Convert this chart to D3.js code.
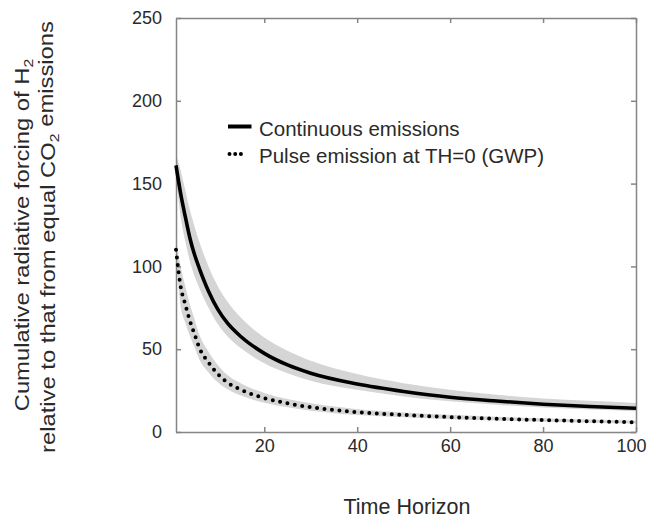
<!DOCTYPE html>
<html><head><meta charset="utf-8">
<script src="https://cdn.jsdelivr.net/npm/d3@7"></script>
<style>body{margin:0;background:#fff}text{font-family:"Liberation Sans",Arial,Helvetica,sans-serif;fill:#2a2a2a}</style>
</head><body><svg id="c" width="647" height="520"></svg>
<script>
// Data
const timeHorizon = [1,2,3,4,5,6,8,10,12,15,20,25,30,40,50,60,70,80,90,100];
const continuous     = [161,144,130,117,107,99,85,74,66,57.5,47.5,40.5,35.5,29,24.5,21,18.7,16.8,15.4,14.3];
const continuousHigh = [168,158,146,134,124,115,100,88,79,69,57,49,43,35,29.5,25.5,22.5,20.3,18.8,17.5];
const continuousLow  = [154,130,115,103,94,87,75,65,58,50.5,41.5,35.5,31,25.5,21.5,18.5,16.5,14.8,13.6,12.6];
const pulse          = [110,88,77,67,59,51,42,35,30,25.5,20.5,17.3,15,12,10.3,9,8,7.2,6.5,5.9];
const pulseHigh      = [116,100,88,77,68,59,48.5,40.5,34.5,29.3,23.6,19.9,17.3,13.8,11.8,10.4,9.2,8.3,7.5,6.8];
const pulseLow       = [104,76,66,58,51,44,36,30,26,22,17.6,14.9,12.9,10.3,8.9,7.7,6.9,6.2,5.6,5.1];
const xTicks = [20,40,60,80,100];
const yTicks = [0,50,100,150,200,250];
const seriesNames = ["Continuous emissions","Pulse emission at TH=0 (GWP)"];
const xTitle = "Time Horizon";

const svg = d3.select("#c");
const x = d3.scaleLinear().domain([1,100]).range([176,636]);
const y = d3.scaleLinear().domain([0,250]).range([432,18]);

const rows = (v, lo, hi) => timeHorizon.map((t,i)=>({t, v:v[i], lo:lo[i], hi:hi[i]}));
const contRows = rows(continuous, continuousLow, continuousHigh);
const pulseRows = rows(pulse, pulseLow, pulseHigh);

const area = d3.area().x(d=>x(d.t)).y0(d=>y(d.lo)).y1(d=>y(d.hi)).curve(d3.curveMonotoneX);
const line = d3.line().x(d=>x(d.t)).y(d=>y(d.v)).curve(d3.curveMonotoneX);

svg.append("path").datum(contRows).attr("d",area).attr("fill","#d5d5d5");
svg.append("path").datum(pulseRows).attr("d",area).attr("fill","#d5d5d5");

// axes (box with inward ticks)
const axStyle = g => { g.selectAll("path,line").attr("stroke","#858585").attr("stroke-width",1.5); g.selectAll("text").attr("fill","#2a2a2a").style("font-size","18px").attr("font-family",null); };
const xb = svg.append("g").attr("transform","translate(0,432)")
  .call(d3.axisBottom(x).tickValues(xTicks).tickSizeInner(-5).tickSizeOuter(0).tickPadding(7)).call(axStyle);
// keep the last label inside the page edge
xb.selectAll(".tick text").filter(d=>d===xTicks[xTicks.length-1]).attr("text-anchor","end").attr("dx","10px");
svg.append("g").attr("transform","translate(0,18)")
  .call(d3.axisTop(x).tickValues(xTicks).tickSizeInner(-5).tickSizeOuter(0).tickFormat("")).call(axStyle);
svg.append("g").attr("transform","translate(176,0)")
  .call(d3.axisLeft(y).tickValues(yTicks).tickSizeInner(-5).tickSizeOuter(0).tickPadding(14)).call(axStyle);
svg.append("g").attr("transform","translate(636,0)")
  .call(d3.axisRight(y).tickValues(yTicks).tickSizeInner(-5).tickSizeOuter(0).tickFormat("")).call(axStyle);

svg.append("path").datum(contRows).attr("d",line).attr("fill","none").attr("stroke","#000").attr("stroke-width",3.6);
svg.append("path").datum(pulseRows).attr("d",line).attr("fill","none").attr("stroke","#000")
  .attr("stroke-width",4).attr("stroke-dasharray","0 7.5").attr("stroke-linecap","round");

// legend
const lg = svg.append("g");
lg.append("line").attr("x1",228).attr("x2",251.5).attr("y1",126.5).attr("y2",126.5).attr("stroke","#000").attr("stroke-width",4);
lg.append("line").attr("x1",229.5).attr("x2",241).attr("y1",154).attr("y2",154).attr("stroke","#000")
  .attr("stroke-width",4).attr("stroke-dasharray","0 5.7").attr("stroke-linecap","round");
lg.append("text").attr("x",259).attr("y",136).style("font-size","20.5px").text(seriesNames[0]);
lg.append("text").attr("x",259).attr("y",163).style("font-size","20.5px").text(seriesNames[1]);

// x title
svg.append("text").attr("x",407).attr("y",514).attr("text-anchor","middle").style("font-size","21.5px").text(xTitle);

// y title (two lines, rotated)
const yt1 = svg.append("text").attr("text-anchor","middle").attr("transform","translate(29,235) rotate(-90) scale(1.22,1)").style("font-size","19.5px");
yt1.append("tspan").text("Cumulative radiative forcing of H");
yt1.append("tspan").attr("dy","0.3em").style("font-size","13px").text("2");
const yt2 = svg.append("text").attr("text-anchor","middle").attr("transform","translate(55,237) rotate(-90) scale(1.22,1)").style("font-size","19.5px");
yt2.append("tspan").text("relative to that from equal CO");
yt2.append("tspan").attr("dy","0.3em").style("font-size","13px").text("2");
yt2.append("tspan").attr("dy","-0.3em").text(" emissions");
</script></body></html>
